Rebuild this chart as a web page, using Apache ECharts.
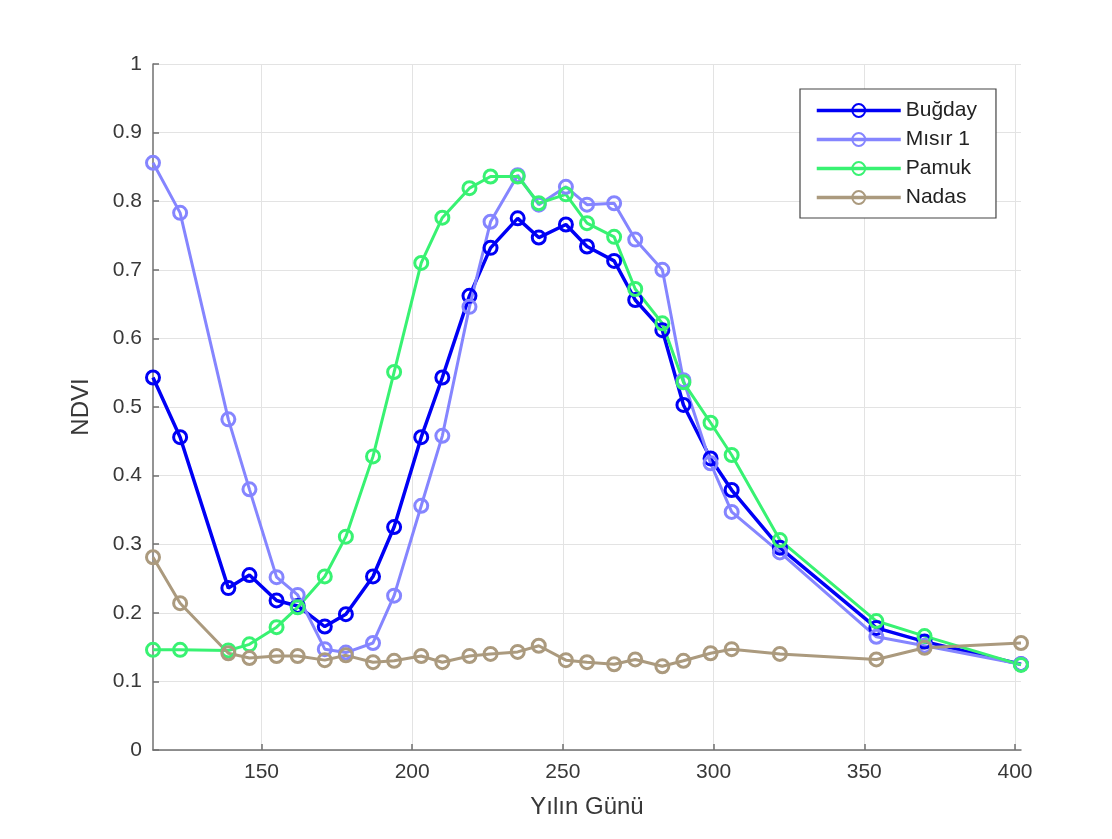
<!DOCTYPE html>
<html>
<head>
<meta charset="utf-8">
<script src="https://cdn.jsdelivr.net/npm/echarts@6/dist/echarts.min.js"></script>
<style>
html,body{margin:0;padding:0;background:#fff;}
#c{width:1112px;height:839px;}
</style>
</head>
<body>
<div id="c"></div>
<script>
const days = [114,123,139,146,155,162,171,178,187,194,203,210,219,226,235,242,251,258,267,274,283,290,299,306,322,354,370,402];
const bugday = [0.543,0.456,0.236,0.255,0.218,0.210,0.180,0.198,0.253,0.325,0.456,0.543,0.662,0.732,0.775,0.747,0.766,0.734,0.713,0.656,0.612,0.503,0.425,0.379,0.295,0.178,0.158,0.125];
const misir = [0.856,0.783,0.482,0.380,0.252,0.226,0.147,0.142,0.156,0.225,0.356,0.458,0.646,0.770,0.838,0.795,0.821,0.795,0.797,0.744,0.700,0.539,0.418,0.347,0.288,0.165,0.152,0.125];
const pamuk = [0.146,0.146,0.145,0.154,0.179,0.208,0.253,0.311,0.428,0.551,0.710,0.776,0.819,0.836,0.836,0.797,0.810,0.768,0.748,0.672,0.622,0.536,0.477,0.430,0.306,0.188,0.166,0.124];
const nadas = [0.281,0.214,0.141,0.134,0.137,0.137,0.131,0.138,0.128,0.130,0.137,0.128,0.137,0.140,0.143,0.152,0.131,0.128,0.125,0.132,0.122,0.130,0.141,0.147,0.140,0.132,0.149,0.156];
const xTicks = [150,200,250,300,350,400];
const seriesNames = ['Buğday','Mısır 1','Pamuk','Nadas'];
const seriesColors = ['#0000f5','#8585ff','#38f272','#ab9a7e'];

const FONT = "'Liberation Sans', Arial, sans-serif";
const dataSets = [bugday, misir, pamuk, nadas];
const widths = [3.5, 3, 3, 3];

const chart = echarts.init(document.getElementById('c'), null, {renderer:'canvas'});
chart.setOption({
  animation:false,
  backgroundColor:'#ffffff',
  grid:{left:153, top:64, width:868, height:686, containLabel:false},
  xAxis:{
    type:'value', min:114, max:402,
    name:'Yılın Günü', nameLocation:'middle', nameGap:45,
    nameTextStyle:{fontFamily:FONT, fontSize:24, color:'#383838'},
    axisLine:{show:true, lineStyle:{color:'#707070', width:1.5}},
    axisTick:{show:true, inside:true, length:6, customValues:xTicks, lineStyle:{color:'#707070', width:1.5}},
    axisLabel:{customValues:xTicks, fontFamily:FONT, fontSize:21, color:'#383838', margin:12},
    splitLine:{show:true, lineStyle:{color:'#e3e3e3', width:1}}
  },
  yAxis:{
    type:'value', min:0, max:1, interval:0.1,
    name:'NDVI', nameLocation:'middle', nameGap:60,
    nameTextStyle:{fontFamily:FONT, fontSize:24, color:'#383838'},
    axisLine:{show:true, lineStyle:{color:'#707070', width:1.5}},
    axisTick:{show:true, inside:true, length:6, lineStyle:{color:'#707070', width:1.5}},
    axisLabel:{fontFamily:FONT, fontSize:21, color:'#383838', margin:11},
    splitLine:{show:true, lineStyle:{color:'#e3e3e3', width:1}}
  },
  legend:{
    orient:'vertical', left:800, top:89,
    data:seriesNames,
    itemWidth:84, itemHeight:16, itemGap:8,
    padding:[11,19,10,15],
    backgroundColor:'#fff',
    borderColor:'#444', borderWidth:1.2, borderRadius:0,
    lineStyle:{width:3.5},
    textStyle:{fontFamily:FONT, fontSize:21, color:'#222'}
  },
  series: seriesNames.map((n,i)=>({
    name:n, type:'line',
    data: days.map((d,j)=>[d, dataSets[i][j]]),
    symbol:'circle', symbolSize:13,
    showAllSymbol:true,
    lineStyle:{color:seriesColors[i], width:widths[i]},
    itemStyle:{color:'rgba(255,255,255,0)', borderColor:seriesColors[i], borderWidth:3},
    emphasis:{disabled:true}
  }))
});
</script>
</body>
</html>
